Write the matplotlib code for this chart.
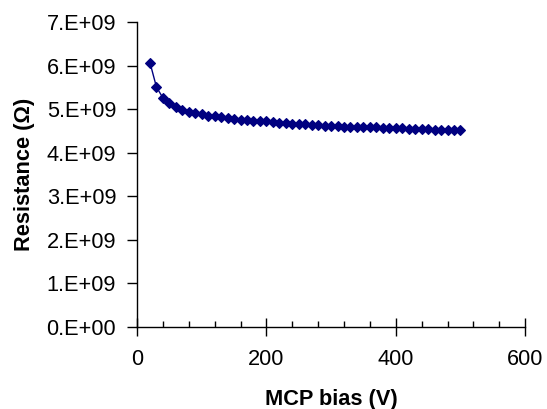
import matplotlib
matplotlib.use("Agg")
import matplotlib.pyplot as plt
from matplotlib.ticker import MultipleLocator, FuncFormatter

plt.rcParams['font.family'] = ['Liberation Sans', 'DejaVu Sans']

bias_v = list(range(20, 501, 10))
resistance_e9 = [6.07, 5.51, 5.26, 5.15, 5.05, 4.99, 4.94, 4.91, 4.88, 4.85,
                 4.84, 4.81, 4.79, 4.78, 4.76, 4.75, 4.74, 4.73, 4.72, 4.70,
                 4.69, 4.68, 4.66, 4.66, 4.65, 4.64, 4.63, 4.62, 4.62, 4.61,
                 4.60, 4.60, 4.59, 4.59, 4.58, 4.58, 4.57, 4.57, 4.56, 4.56,
                 4.55, 4.55, 4.54, 4.54, 4.53, 4.53, 4.52, 4.52, 4.52]
resistance = [v * 1e9 for v in resistance_e9]

FS = 15.7

fig = plt.figure(figsize=(5.47, 4.09), dpi=100)
ax = fig.add_axes([0.2505, 0.2005, 0.7095, 0.7455])
ax.plot(bias_v, resistance, color='#000080', lw=1.0, marker='D', ms=5.3, mew=0.8,
        markeredgecolor='#000080', markerfacecolor='#000080')

ax.set_xlim(0, 600)
ax.set_ylim(0, 7e9)
ax.xaxis.set_major_locator(MultipleLocator(200))
ax.xaxis.set_minor_locator(MultipleLocator(40))
ax.yaxis.set_major_locator(MultipleLocator(1e9))
ax.yaxis.set_major_formatter(FuncFormatter(lambda v, p: "%d.E+%02d" % (round(v / 1e9), 9) if v > 0 else "0.E+00"))

for s in ['top', 'right']:
    ax.spines[s].set_visible(False)
for s in ['left', 'bottom']:
    ax.spines[s].set_linewidth(1.0)

ax.tick_params(axis='y', which='major', direction='out', length=7, width=1, labelsize=FS, pad=8)
ax.tick_params(axis='x', which='major', direction='inout', length=13, width=1, labelsize=FS, pad=9)
ax.tick_params(axis='x', which='minor', direction='in', length=4, width=1)

ax.set_xlabel('MCP bias (V)', fontsize=FS, fontweight='bold', labelpad=14)
ax.set_ylabel('Resistance (Ω)', fontsize=FS, fontweight='bold', labelpad=8)

fig.savefig('out.png', dpi=100)
